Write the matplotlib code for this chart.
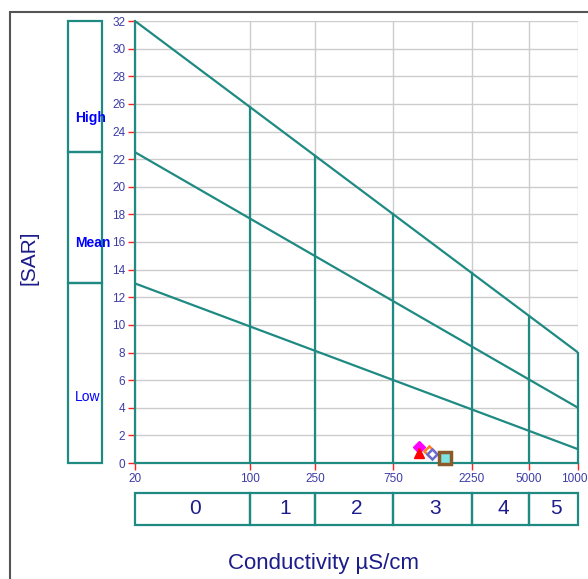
import numpy as np
import matplotlib
matplotlib.use("Agg")
import matplotlib.pyplot as plt
from matplotlib.patches import Rectangle

plt.rcParams['font.family'] = ['Liberation Sans', 'DejaVu Sans']

# Conductivity ticks (µS/cm) and salinity class labels
ec_ticks = [20, 100, 250, 750, 2250, 5000, 10000]
salinity_classes = ['0', '1', '2', '3', '4', '5']

# Sodium hazard boundary lines: SAR at EC=20 and at EC=10000
line_sar_start = [13.0, 22.5, 32.0]
line_sar_end = [1.0, 4.0, 8.0]

# Sodium hazard classes on the left strip
sodium_classes = ['Low', 'Mean', 'High']
sodium_bounds = [0.0, 13.0, 22.5, 32.0]
sodium_label_sar = [4.8, 15.9, 25.0]
sodium_label_weight = ['normal', 'bold', 'bold']

# Water samples
sample_ec = [1075, 1075, 1240, 1295, 1555]
sample_sar = [1.18, 0.72, 0.89, 0.65, 0.38]
sample_marker = ['D', '^', 'D', 'D', 's']
sample_face = ['#ff00ff', '#ff0000', 'white', 'white', '#7fe3e3']
sample_edge = ['#ff00ff', '#ff0000', '#ff7f27', '#6a6ad0', '#8b5a2b']
sample_size = [6, 7.5, 5.5, 5.5, 8]
sample_mew = [1, 1, 1.8, 1.8, 2.5]

TEAL = '#1f8a82'
TICK_TXT = '#3c3ca8'
NAVY = '#1c1c8a'

W, H = 588, 579
fig = plt.figure(figsize=(W / 100, H / 100), dpi=100)

def fx(px):
    return px / W

def fy(py):
    return 1 - py / H

x0, x1 = fx(135), fx(578)
y0, y1 = fy(463), fy(21)

ax = fig.add_axes([x0, y0, x1 - x0, y1 - y0])
ax.set_xscale('log')
ax.set_xlim(ec_ticks[0], ec_ticks[-1])
ax.set_ylim(0, 32)
ax.set_xticks(ec_ticks)
ax.set_xticklabels([str(v) for v in ec_ticks])
ax.xaxis.set_minor_locator(matplotlib.ticker.NullLocator())
ax.set_yticks(np.arange(0, 33, 2))
ax.grid(True, color='#cccccc', lw=1, zorder=0)
ax.set_axisbelow(True)
ax.tick_params(axis='both', colors='#ff2020', length=5, width=1,
               labelcolor=TICK_TXT, labelsize=8.5, pad=2)
for s in ['top', 'right']:
    ax.spines[s].set_visible(False)
for s in ['left', 'bottom']:
    ax.spines[s].set_color(TEAL)
    ax.spines[s].set_linewidth(1.6)
    ax.spines[s].set_zorder(3)

lx = np.log10([ec_ticks[0], ec_ticks[-1]])
for a, b in zip(line_sar_start, line_sar_end):
    ax.plot([ec_ticks[0], ec_ticks[-1]], [a, b], color=TEAL, lw=1.6, zorder=3,
            solid_capstyle='butt')

# vertical separators up to the uppermost boundary line
for v in ec_ticks[1:]:
    top = np.interp(np.log10(v), lx, [line_sar_start[-1], line_sar_end[-1]])
    ax.plot([v, v], [0, top], color=TEAL, lw=1.6, zorder=3, clip_on=False)

for e, s, m, fc, ec, ms, mew in zip(sample_ec, sample_sar, sample_marker,
                                     sample_face, sample_edge, sample_size, sample_mew):
    ax.plot(e, s, marker=m, ms=ms, mfc=fc, mec=ec, mew=mew, ls='none', zorder=5,
            clip_on=False)

# left strip with sodium hazard classes
axl = fig.add_axes([fx(68), y0, fx(102) - fx(68), y1 - y0])
axl.set_xlim(0, 1)
axl.set_ylim(0, 32)
axl.axis('off')
for i in range(3):
    axl.add_patch(Rectangle((0, sodium_bounds[i]), 1, sodium_bounds[i + 1] - sodium_bounds[i],
                            fill=False, ec=TEAL, lw=1.6, clip_on=False))
    axl.text(0.2, sodium_label_sar[i], sodium_classes[i], color='#0000ff',
             fontsize=10, fontweight=sodium_label_weight[i], va='center', ha='left')

# bottom strip with salinity classes
axb = fig.add_axes([x0, fy(525), x1 - x0, fy(493) - fy(525)])
axb.set_xscale('log')
axb.set_xlim(ec_ticks[0], ec_ticks[-1])
axb.set_ylim(0, 1)
axb.axis('off')
for i, lab in enumerate(salinity_classes):
    a, b = ec_ticks[i], ec_ticks[i + 1]
    axb.add_patch(Rectangle((a, 0), b - a, 1, fill=False, ec=TEAL, lw=1.6, clip_on=False))
    xc = 10 ** ((np.log10(a) + np.log10(b)) / 2)
    axb.text(xc * 1.04, 0.5, lab, color=NAVY, fontsize=15, ha='center', va='center')

fig.text(fx(29), fy(258), '[SAR]', rotation=90, color=NAVY, fontsize=15,
         ha='center', va='center')
fig.text(fx(324), fy(563), 'Conductivity µS/cm', color=NAVY, fontsize=16,
         ha='center', va='center')

# outer frame
fig.add_artist(Rectangle((fx(9.5), -0.2), 1.5, fy(12) + 0.2, transform=fig.transFigure,
                         fill=False, ec='#555555', lw=1.5))

fig.savefig('out.png', dpi=100)
